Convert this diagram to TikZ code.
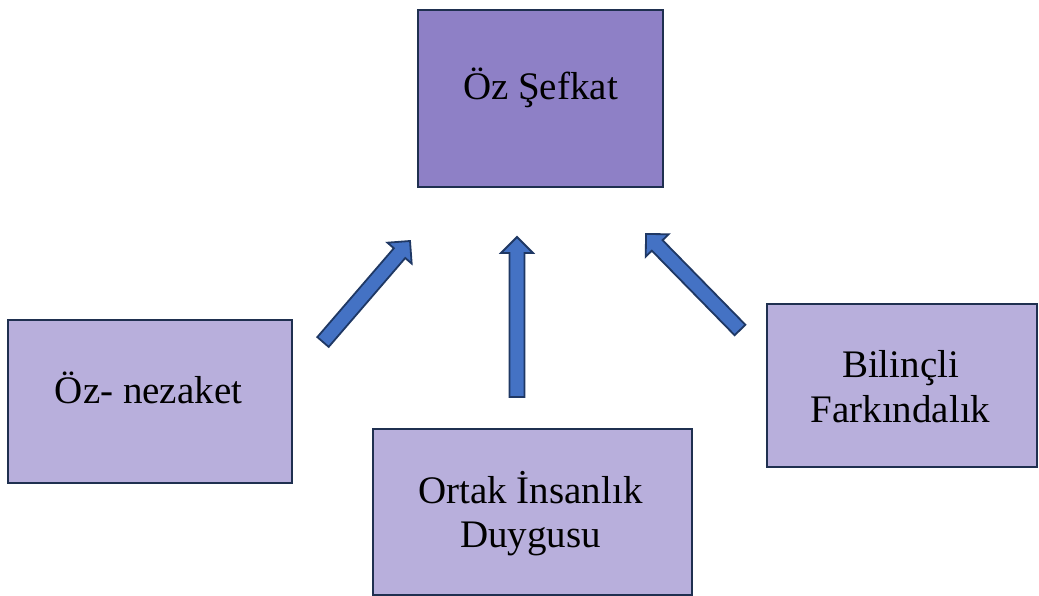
\documentclass[tikz,border=0pt]{standalone}
\usepackage{fontspec}
\setmainfont{Liberation Serif}
\usetikzlibrary{calc}
\definecolor{topfill}{HTML}{8E80C6}
\definecolor{boxfill}{HTML}{B8AFDC}
\definecolor{boxline}{HTML}{1F3050}
\definecolor{arrfill}{HTML}{4472C4}
\definecolor{arrline}{HTML}{1F3864}
\tikzset{
  box/.style={draw=boxline, line width=2.2pt, fill=boxfill, inner sep=0pt},
  topbox/.style={box, fill=topfill},
  lbl/.style={anchor=base, inner sep=0pt, font=\fontsize{39}{45}\selectfont, text=black},
  blockarr/.style={draw=arrline, line width=1.8pt, fill=arrfill, line join=miter}
}
\newcommand{\myblockarrow}[2]{%
  \coordinate (hb) at ($(#2)!16pt!(#1)$);
  \draw[blockarr]
    ($(#1)!7.5pt!90:(#2)$) --
    ($(hb)!7.5pt!-90:(#1)$) --
    ($(hb)!16pt!-90:(#1)$) --
    (#2) --
    ($(hb)!16pt!90:(#1)$) --
    ($(hb)!7.5pt!90:(#1)$) --
    ($(#1)!7.5pt!-90:(#2)$) -- cycle;
}
\begin{document}
\begin{tikzpicture}[x=1pt,y=-1pt]
\useasboundingbox (0,0) rectangle (1039,596);
\path[fill=white] (0,0) rectangle (1039,596);
\node[topbox, minimum width=245pt, minimum height=177pt] (top) at (540.5,98.5) {};
\node[box, minimum width=284pt, minimum height=163pt] (left) at (150,401.5) {};
\node[box, minimum width=319pt, minimum height=166pt] (bottom) at (532.5,512) {};
\node[box, minimum width=270pt, minimum height=163pt] (right) at (902,385.5) {};
\node[lbl] (ttop) at (540.5,100) {Öz Şefkat};
\node[lbl] (tleft) at (148.5,403) {Öz- nezaket};
\node[lbl] (tbot1) at (530.5,503) {Ortak İnsanlık};
\node[lbl] (tbot2) at (530.5,547) {Duygusu};
\node[lbl] (tright1) at (900.5,377) {Bilinçli};
\node[lbl] (tright2) at (900.5,422) {Farkındalık};
\coordinate (a1t) at (323,342);
\coordinate (a1h) at (410,241);
\coordinate (a2t) at (517,397);
\coordinate (a2h) at (517,237);
\coordinate (a3t) at (740,330);
\coordinate (a3h) at (646,234);
\myblockarrow{a1t}{a1h}
\myblockarrow{a2t}{a2h}
\myblockarrow{a3t}{a3h}
\end{tikzpicture}
\end{document}
